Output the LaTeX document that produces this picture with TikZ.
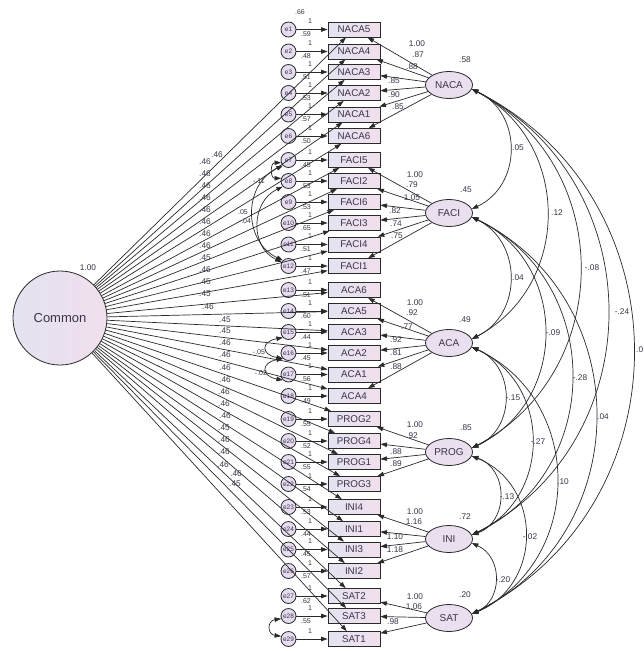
\documentclass[tikz,border=0pt]{standalone}
\usepackage{fontspec}
\setmainfont{Liberation Sans}
\usetikzlibrary{arrows.meta,shapes.geometric}
\definecolor{boxL}{HTML}{E4E3F1}
\definecolor{boxR}{HTML}{F1DFEC}
\definecolor{latF}{HTML}{E9DFEE}
\definecolor{errF}{HTML}{E6DCF0}
\definecolor{ink}{HTML}{3B3448}
\definecolor{lineC}{HTML}{2A2A2A}
\begin{document}
\begin{tikzpicture}[x=1pt,y=-1pt,
  obs/.style={draw=lineC, line width=0.8pt, minimum width=52pt, minimum height=15pt, inner sep=0pt,
    left color=boxL, right color=boxR, text=ink, font=\fontsize{9.8}{9.8}\selectfont},
  err/.style={circle, draw=lineC, line width=0.8pt, minimum size=15pt, inner sep=0pt,
    fill=errF, text=ink, font=\fontsize{6.5}{6.5}\selectfont},
  lat/.style={ellipse, draw=lineC, line width=0.8pt, minimum width=47pt, minimum height=27pt,
    inner sep=0pt, fill=latF, text=ink, font=\fontsize{10}{10}\selectfont},
  comm/.style={circle, draw=lineC, line width=0.8pt, minimum size=94pt, inner sep=0pt,
    left color=boxL, right color=boxR, text=ink, font=\fontsize{13}{13}\selectfont},
  arr/.style={draw=lineC, line width=0.7pt, -{Triangle[length=6.5pt,width=4.5pt]}},
  cov/.style={draw=lineC, line width=0.7pt, {Triangle[length=6.5pt,width=4.5pt]}-{Triangle[length=6.5pt,width=4.5pt]}},
  lbl/.style={inner sep=0pt, text=ink, font=\fontsize{8.3}{8.3}\selectfont},
  slbl/.style={inner sep=0pt, text=ink, font=\fontsize{7}{7}\selectfont}
]
\fill[white] (0,0) rectangle (643,651);
\useasboundingbox (0,0) rectangle (643,651);

% Common factor
\node[comm] (Common) at (60,318) {Common};
\node[lbl] (vCommon) at (88,268) {1.00};

% observed variables with their errors
\foreach \n/\y/\i/\v in {
  NACA5/29.5/1/.59, NACA4/51.5/2/.48, NACA3/72/3/.51, NACA2/93/4/.53, NACA1/114.5/5/.57, NACA6/136/6/.50,
  FACI5/160/7/.45, FACI2/181/8/.53, FACI6/202/9/.53, FACI3/223/10/.65, FACI4/244.5/11/.51, FACI1/266/12/.47,
  ACA6/290/13/.51, ACA5/311/14/.60, ACA3/332/15/.44, ACA2/353/16/.45, ACA1/374.5/17/.56, ACA4/396/18/.49,
  PROG2/419/19/.55, PROG4/441/20/.52, PROG1/462/21/.55, PROG3/484/22/.54,
  INI4/507/23/.53, INI1/529/24/.44, INI3/549.5/25/.45, INI2/571/26/.57,
  SAT2/596/27/.62, SAT3/616/28/.55}{
  \node[obs] (\n) at (354,\y) {\n};
  \node[err] (e\i) at (288.5,\y) {e\i};
  \draw[arr] (e\i) -- (\n);
  \node[slbl] (ev\i) at (306,\y+5) {\v};
  \node[slbl] (one\i) at (310,\y-8) {1};
}
\node[obs] (SAT1) at (354,639) {SAT1};
\node[err] (e29) at (288.5,639) {e29};
\draw[arr] (e29) -- (SAT1);
\node[slbl] (one29) at (310,631) {1};
\node[slbl] (top66) at (300,12) {.66};

% latent factors
\node[lat] (NACA) at (449,85) {NACA};
\node[lat] (FACI) at (449,213) {FACI};
\node[lat] (ACA) at (449,343) {ACA};
\node[lat] (PROG) at (449,452) {PROG};
\node[lat] (INI) at (449,539) {INI};
\node[lat] (SAT) at (449,618) {SAT};

\node[lbl] (vNACA) at (465,60) {.58};
\node[lbl] (vFACI) at (466,190) {.45};
\node[lbl] (vACA) at (465,320) {.49};
\node[lbl] (vPROG) at (466,428) {.85};
\node[lbl] (vINI) at (465,517) {.72};
\node[lbl] (vSAT) at (465,595) {.20};

% loadings of the specific factors
\foreach \n in {NACA5,NACA4,NACA3,NACA2,NACA1,NACA6} \draw[arr] (NACA) -- (\n);
\foreach \n in {FACI5,FACI2,FACI6,FACI3,FACI4,FACI1} \draw[arr] (FACI) -- (\n);
\foreach \n in {ACA6,ACA5,ACA3,ACA2,ACA1,ACA4} \draw[arr] (ACA) -- (\n);
\foreach \n in {PROG2,PROG4,PROG1,PROG3} \draw[arr] (PROG) -- (\n);
\foreach \n in {INI4,INI1,INI3,INI2} \draw[arr] (INI) -- (\n);
\foreach \n in {SAT2,SAT3,SAT1} \draw[arr] (SAT) -- (\n);

\foreach \x/\y/\t in {417/44/1.00, 418/55/.87, 412/67/.88, 394/81/.85, 394/95/.90, 398/107/.85,
  415/175/1.00, 412/185/.79, 412/198/1.05, 395/211/.82, 396/224/.74, 397/236/.75,
  415/303/1.00, 412/313/.92, 407/327/.77, 396/340/.92, 396/353/.81, 396/367/.88,
  415/425/1.00, 412/436/.92, 396/452/.88, 396/464/.89,
  415/512/1.00, 414/522/1.16, 395/537/1.10, 395/550/1.18,
  415/597/1.00, 414/607/1.06, 393/622/.98}
  \node[lbl] at (\x,\y) {\t};

% loadings of the common factor
\foreach \n in {NACA5,NACA4,NACA3,NACA2,NACA1,NACA6,FACI5,FACI2,FACI6,FACI3,FACI4,FACI1,
  ACA6,ACA5,ACA3,ACA2,ACA1,ACA4,PROG2,PROG4,PROG1,PROG3,INI4,INI1,INI3,INI2,SAT2,SAT3,SAT1}
  \draw[arr] (Common) -- (\n);

\foreach \x/\y/\t in {217/155/.46, 205/162/.46, 205/174/.46, 205/186/.46, 205/198/.46, 205/210/.46,
  205/222/.46, 205/234/.46, 205/246/.46, 205/258/.45, 205/270/.46, 205/282/.45, 205/294/.45, 208/307/.46,
  225/320/.45, 225/331/.45, 225/343/.46, 225/355/.46, 225/368/.46, 225/380/.46, 224/392/.46,
  224/404/.46, 225/416/.46, 224/428/.45, 224/440/.46, 224/452/.46, 223/465/.46, 236/474/.46, 235/484/.45}
  \node[lbl] at (\x,\y) {\t};

% covariances between specific factors
\draw[cov] (NACA.-10) .. controls +(50.7,24) and +(50.7,-24) .. (FACI.10);
\draw[cov] (NACA.-10) .. controls +(100,53) and +(100,-53) .. (ACA.10);
\draw[cov] (NACA.-10) .. controls +(144,76) and +(144,-76) .. (PROG.10);
\draw[cov] (NACA.-10) .. controls +(181,93) and +(181,-93) .. (INI.10);
\draw[cov] (NACA.-10) .. controls +(215,109) and +(215,-109) .. (SAT.10);
\draw[cov] (FACI.-10) .. controls +(50.7,25) and +(50.7,-25) .. (ACA.10);
\draw[cov] (FACI.-10) .. controls +(97,46) and +(97,-46) .. (PROG.10);
\draw[cov] (FACI.-10) .. controls +(133,64) and +(133,-64) .. (INI.10);
\draw[cov] (FACI.-10) .. controls +(165,81) and +(165,-81) .. (SAT.10);
\draw[cov] (ACA.-10) .. controls +(44,19) and +(44,-19) .. (PROG.10);
\draw[cov] (ACA.-10) .. controls +(80,37) and +(80,-37) .. (INI.10);
\draw[cov] (ACA.-10) .. controls +(113,53) and +(113,-53) .. (SAT.10);
\draw[cov] (PROG.-10) .. controls +(37,13) and +(37,-13) .. (INI.10);
\draw[cov] (PROG.-10) .. controls +(71,29) and +(71,-29) .. (SAT.10);
\draw[cov] (INI.-10) .. controls +(31,14) and +(31,-14) .. (SAT.10);

\foreach \x/\y/\t in {518/148/.05, 557/213/.12, 592/268/-.08, 622/312/-.24,
  518/278/.04, 553/333/-.09, 580/378/-.28, 603/417/.04,
  513/398/-.15, 538/442/-.27, 563/482/.10,
  507/497/-.13, 530/537/-.02, 503/580/-.20}
  \node[lbl] at (\x,\y) {\t};
\node[lbl,anchor=west] (cutlbl) at (636,350) {.0};

% covariances between errors
\draw[cov] (e7.225) .. controls +(-40,19) and +(-40,-19) .. (e12.135);
\draw[cov] (e8.225) .. controls +(-32,15) and +(-32,-15) .. (e12.150);
\draw[cov] (e7.200) .. controls +(-11,0) and +(-11,0) .. (e8.160);
\node[slbl] (c1) at (259,181) {-.11};
\node[slbl] (c2) at (243,212) {.05};
\node[slbl] (c3) at (245,221) {-.04};
\draw[cov] (e15.225) .. controls +(-22,4) and +(-22,-4) .. (e16.225);
\draw[cov] (e16.225) .. controls +(-22,4) and +(-22,-4) .. (e17.225);
\node[slbl] (c4) at (259,352) {-.05};
\node[slbl] (c5) at (261,373) {-.02};
\draw[cov] (e28.200) .. controls +(-14,2) and +(-14,-2) .. (e29.160);
\end{tikzpicture}
\end{document}
